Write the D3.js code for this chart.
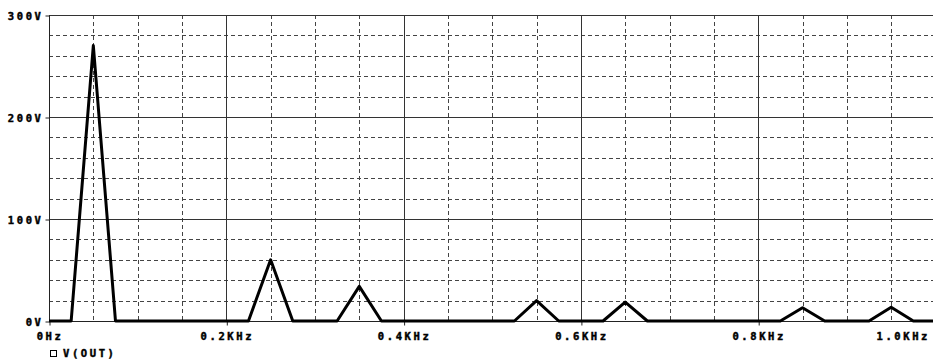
<!DOCTYPE html>
<html>
<head>
<meta charset="utf-8">
<script src="https://cdn.jsdelivr.net/npm/d3@7"></script>
<style>
  html, body { margin: 0; padding: 0; background: #fff; }
  svg { display: block; }
  text { font-family: "DejaVu Sans Mono", monospace; font-weight: bold; font-size: 10.5px; letter-spacing: 2.6px; fill: #000; stroke: #000; stroke-width: 0.45px; }
</style>
</head>
<body>
<script>
// FFT of V(OUT), frequency in KHz
const freqKHz = [0, 0.025, 0.05, 0.075, 0.1, 0.125, 0.15, 0.175, 0.2, 0.225,
  0.25, 0.275, 0.3, 0.325, 0.35, 0.375, 0.4, 0.425, 0.45, 0.475,
  0.5, 0.525, 0.55, 0.575, 0.6, 0.625, 0.65, 0.675, 0.7, 0.725,
  0.75, 0.775, 0.8, 0.825, 0.85, 0.875, 0.9, 0.925, 0.95, 0.975,
  1.0, 1.025, 1.05];
const vOut = [0, 0, 270, 0, 0, 0, 0, 0, 0, 0,
  60, 0, 0, 0, 34, 0, 0, 0, 0, 0,
  0, 0, 20, 0, 0, 0, 18.5, 0, 0, 0,
  0, 0, 0, 0, 13, 0, 0, 0, 13.5, 0,
  0, 0, 0];

const yTicks = [0, 100, 200, 300];
const yTickLabels = ['0V', '100V', '200V', '300V'];
const xTicks = [0, 0.2, 0.4, 0.6, 0.8, 1.0];
const xTickLabels = ['0Hz', '0.2KHz', '0.4KHz', '0.6KHz', '0.8KHz', '1.0KHz'];
const legendLabel = 'V(OUT)';

const width = 933, height = 362;
const x = d3.scaleLinear().domain([0, 1.0]).range([49, 935.5]);
const y = d3.scaleLinear().domain([0, 300]).range([321, 15]);
const px = v => Math.round(v) + 0.5;

const svg = d3.select('body').append('svg')
  .attr('width', width)
  .attr('height', height);

const grid = svg.append('g').attr('shape-rendering', 'crispEdges');

// minor dashed grid
const xMinor = d3.range(0.05, 1.001, 0.05).filter(f => Math.abs(f / 0.2 - Math.round(f / 0.2)) > 1e-6);
const yMinor = d3.range(20, 300, 20).filter(v => v % 100 !== 0);

grid.selectAll('line.vx').data(xMinor).join('line')
  .attr('x1', d => px(x(d))).attr('x2', d => px(x(d)))
  .attr('y1', y(300)).attr('y2', y(0))
  .attr('stroke', '#444').attr('stroke-dasharray', '4,3');

grid.selectAll('line.hy').data(yMinor).join('line')
  .attr('x1', x(0)).attr('x2', width)
  .attr('y1', d => px(y(d))).attr('y2', d => px(y(d)))
  .attr('stroke', '#444').attr('stroke-dasharray', '4,3');

// major solid grid
grid.selectAll('line.mx').data(xTicks.slice(1)).join('line')
  .attr('x1', d => px(x(d))).attr('x2', d => px(x(d)))
  .attr('y1', y(300)).attr('y2', y(0))
  .attr('stroke', '#333');

grid.selectAll('line.my').data(yTicks.slice(1)).join('line')
  .attr('x1', x(0)).attr('x2', width)
  .attr('y1', d => px(y(d))).attr('y2', d => px(y(d)))
  .attr('stroke', '#333');

// axes
const yAxis = d3.axisLeft(y)
  .tickValues(yTicks)
  .tickSize(4)
  .tickPadding(2)
  .tickFormat((d, i) => yTickLabels[i]);

const xAxis = d3.axisBottom(x)
  .tickValues(xTicks)
  .tickSize(4)
  .tickPadding(7)
  .tickFormat((d, i) => xTickLabels[i]);

const gy = svg.append('g')
  .attr('transform', `translate(${px(x(0))},0.5)`)
  .call(yAxis);
gy.select('.domain').remove();
gy.selectAll('line').attr('stroke', '#222');
gy.selectAll('text').attr('font-family', null).attr('font-size', null).attr('dy', '0.35em');

const gx = svg.append('g')
  .attr('transform', `translate(0.5,${px(y(0))})`)
  .call(xAxis);
gx.select('.domain').remove();
gx.selectAll('line').attr('stroke', '#222');
gx.selectAll('text').attr('font-family', null).attr('font-size', null);
// last label is pulled in so it stays inside the picture
gx.selectAll('.tick').filter(d => d === 1.0).select('text')
  .attr('text-anchor', 'end')
  .attr('x', 929 - x(1.0));

svg.append('line')
  .attr('x1', px(x(0))).attr('x2', px(x(0)))
  .attr('y1', y(300)).attr('y2', y(0))
  .attr('stroke', '#222');
svg.append('line')
  .attr('x1', x(0)).attr('x2', width)
  .attr('y1', px(y(0))).attr('y2', px(y(0)))
  .attr('stroke', '#222');

// trace
const line = d3.line()
  .x((d, i) => x(freqKHz[i]))
  .y(d => y(d));

svg.append('path')
  .attr('d', line(vOut))
  .attr('fill', 'none')
  .attr('stroke', '#000')
  .attr('stroke-width', 3)
  .attr('stroke-linejoin', 'round');

// legend
svg.append('rect')
  .attr('x', 50.5).attr('y', 350.5)
  .attr('width', 6).attr('height', 6)
  .attr('fill', 'none')
  .attr('stroke', '#000');
svg.append('text')
  .attr('x', 63).attr('y', 353)
  .attr('dy', '0.35em')
  .text(legendLabel);
</script>
</body>
</html>
